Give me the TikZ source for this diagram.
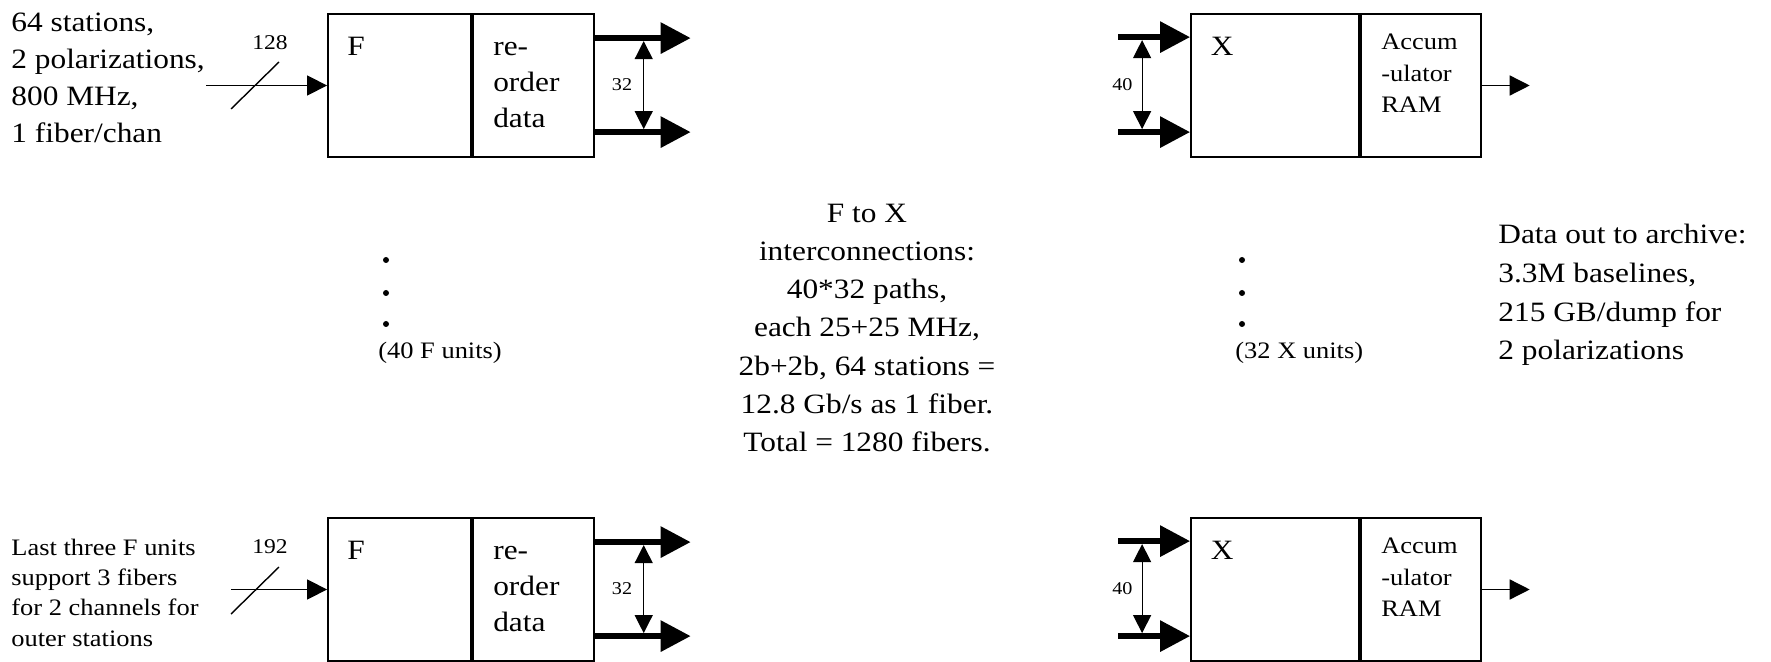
\documentclass[tikz,border=0pt]{standalone}
\usepackage{fontspec}
\setmainfont{Liberation Serif}[FakeStretch=1.12]
\usetikzlibrary{arrows.meta,positioning}

\begin{document}
\begin{tikzpicture}[
  x=0.5pt, y=-0.5pt,
  unitbox/.style={draw, line width=0.9pt, minimum height=71.5pt, inner sep=0pt},
  txt/.style={inner sep=0pt, align=left, font=\fontsize{14}{#1}\selectfont},
  smalltxt/.style={inner sep=0pt, align=left, font=\fontsize{11.8}{#1}\selectfont},
  buslabel/.style={inner sep=0pt, font=\fontsize{10.5}{12}\selectfont},
  tinylabel/.style={inner sep=0pt, font=\fontsize{9}{11}\selectfont},
  bus/.style={-{Triangle[length=15pt, width=15pt]}, line width=3pt},
  feed/.style={-{Triangle[length=10pt, width=10pt]}, line width=0.7pt},
  spanarrow/.style={<->, >={Triangle[length=9pt, width=9pt]}, line width=0.6pt}
]
  \useasboundingbox (0,0) rectangle (1771,662);

  % first F unit
  \node[unitbox, minimum width=71.5pt] (fa1) at (399.5,85.5) {};
  \node[unitbox, minimum width=60.5pt, right=0pt of fa1] (fb1) {};
  \node[txt=14] (fl1) at ([shift={(29,33)}]fa1.north west) {F};
  \node[txt=18, anchor=west] (fr1) at ([shift={(21,0)}]fb1.west) {re-\\order\\data};
  \node[txt=18.5, anchor=west] (src1) at (11,78)
    {64 stations,\\2 polarizations,\\800 MHz,\\1 fiber/chan};
  \coordinate (in1) at (206,85.5);
  \draw[feed] (in1) -- (fa1.west);
  \coordinate (sa1) at (231,109);
  \coordinate (sb1) at (279,62);
  \draw[line width=0.7pt] (sa1) -- (sb1);
  \node[buslabel] (w1) at (270,43) {128};
  \coordinate (fs1) at ([shift={(0,25)}]fb1.north east);
  \coordinate (ft1) at ([shift={(96,25)}]fb1.north east);
  \coordinate (fu1) at ([shift={(0,119)}]fb1.north east);
  \coordinate (fv1) at ([shift={(96,119)}]fb1.north east);
  \draw[bus] (fs1) -- (ft1);
  \draw[bus] (fu1) -- (fv1);
  \coordinate (fp1) at ([shift={(49,28)}]fb1.north east);
  \coordinate (fq1) at ([shift={(49,116)}]fb1.north east);
  \draw[spanarrow] (fp1) -- node[tinylabel, left=5.5pt] (fn1) {32} (fq1);

  % last F unit
  \node[unitbox, minimum width=71.5pt] (fa2) at (399.5,589.5) {};
  \node[unitbox, minimum width=60.5pt, right=0pt of fa2] (fb2) {};
  \node[txt=14] (fl2) at ([shift={(29,33)}]fa2.north west) {F};
  \node[txt=18, anchor=west] (fr2) at ([shift={(21,0)}]fb2.west) {re-\\order\\data};
  \node[smalltxt=15.15, anchor=west] (src2) at (11,592.5)
    {Last three F units\\support 3 fibers\\for 2 channels for\\outer stations};
  \coordinate (in2) at (231,589.5);
  \draw[feed] (in2) -- (fa2.west);
  \coordinate (sa2) at (231,614);
  \coordinate (sb2) at (279,567);
  \draw[line width=0.7pt] (sa2) -- (sb2);
  \node[buslabel] (w2) at (270,547) {192};
  \coordinate (fs2) at ([shift={(0,25)}]fb2.north east);
  \coordinate (ft2) at ([shift={(96,25)}]fb2.north east);
  \coordinate (fu2) at ([shift={(0,119)}]fb2.north east);
  \coordinate (fv2) at ([shift={(96,119)}]fb2.north east);
  \draw[bus] (fs2) -- (ft2);
  \draw[bus] (fu2) -- (fv2);
  \coordinate (fp2) at ([shift={(49,28)}]fb2.north east);
  \coordinate (fq2) at ([shift={(49,116)}]fb2.north east);
  \draw[spanarrow] (fp2) -- node[tinylabel, left=5.5pt] (fn2) {32} (fq2);

  % first X unit
  \node[unitbox, minimum width=84pt] (xa1) at (1275,85.5) {};
  \node[unitbox, minimum width=60pt, right=0pt of xa1] (xb1) {};
  \node[txt=14] (xl1) at ([shift={(32,33)}]xa1.north west) {X};
  \node[smalltxt=15.75, anchor=west] (xr1) at ([shift={(21,-12)}]xb1.west) {Accum\\-ulator\\RAM};
  \coordinate (xs1) at ([shift={(-72,24)}]xa1.north west);
  \coordinate (xt1) at ([shift={(0,24)}]xa1.north west);
  \coordinate (xu1) at ([shift={(-72,119)}]xa1.north west);
  \coordinate (xv1) at ([shift={(0,119)}]xa1.north west);
  \draw[bus] (xs1) -- (xt1);
  \draw[bus] (xu1) -- (xv1);
  \coordinate (xp1) at ([shift={(-48,27)}]xa1.north west);
  \coordinate (xq1) at ([shift={(-48,116)}]xa1.north west);
  \draw[spanarrow] (xp1) -- node[tinylabel, left=4.5pt] (xn1) {40} (xq1);
  \coordinate (xo1) at ([shift={(48,0)}]xb1.east);
  \draw[feed] (xb1.east) -- (xo1);

  % last X unit
  \node[unitbox, minimum width=84pt] (xa2) at (1275,589.5) {};
  \node[unitbox, minimum width=60pt, right=0pt of xa2] (xb2) {};
  \node[txt=14] (xl2) at ([shift={(32,33)}]xa2.north west) {X};
  \node[smalltxt=15.75, anchor=west] (xr2) at ([shift={(21,-12)}]xb2.west) {Accum\\-ulator\\RAM};
  \coordinate (xs2) at ([shift={(-72,24)}]xa2.north west);
  \coordinate (xt2) at ([shift={(0,24)}]xa2.north west);
  \coordinate (xu2) at ([shift={(-72,119)}]xa2.north west);
  \coordinate (xv2) at ([shift={(0,119)}]xa2.north west);
  \draw[bus] (xs2) -- (xt2);
  \draw[bus] (xu2) -- (xv2);
  \coordinate (xp2) at ([shift={(-48,27)}]xa2.north west);
  \coordinate (xq2) at ([shift={(-48,116)}]xa2.north west);
  \draw[spanarrow] (xp2) -- node[tinylabel, left=4.5pt] (xn2) {40} (xq2);
  \coordinate (xo2) at ([shift={(48,0)}]xb2.east);
  \draw[feed] (xb2.east) -- (xo2);

  % the units in between
  \fill (386,260) circle[radius=1.5pt];
  \fill (386,293) circle[radius=1.5pt];
  \fill (386,324) circle[radius=1.5pt];
  \node[smalltxt=14, anchor=west] (fcount) at (378,353) {(40 F units)};
  \fill (1242,260) circle[radius=1.5pt];
  \fill (1242,293) circle[radius=1.5pt];
  \fill (1242,324) circle[radius=1.5pt];
  \node[smalltxt=14, anchor=west] (xcount) at (1235,353) {(32 X units)};

  \node[txt=19.15, align=center] (links) at (867,328)
    {F to X\\interconnections:\\40*32 paths,\\each 25+25 MHz,\\2b+2b, 64 stations =\\12.8 Gb/s as 1 fiber.\\Total = 1280 fibers.};
  \node[txt=19.35, anchor=west] (archive) at (1498,295)
    {Data out to archive:\\3.3M baselines,\\215 GB/dump for\\2 polarizations};
\end{tikzpicture}
\end{document}
